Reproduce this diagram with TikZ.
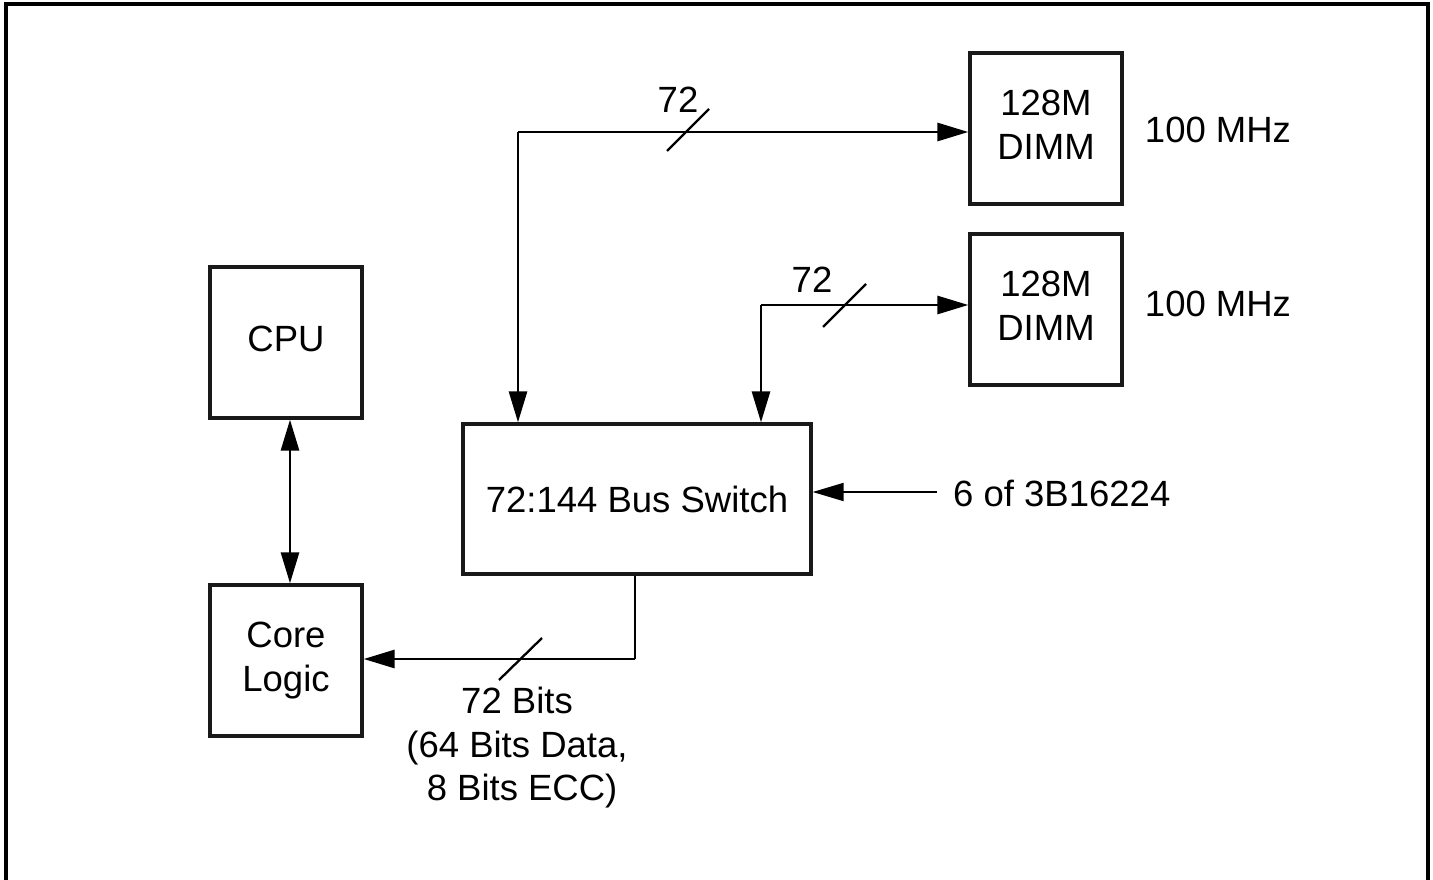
\documentclass[tikz,border=0pt]{standalone}
\usepackage{fontspec}
\setmainfont{Liberation Sans}
\usetikzlibrary{arrows.meta}
\begin{document}
\begin{tikzpicture}[x=1pt,y=-1pt,
  font=\fontsize{36.5}{43.5}\selectfont,
  blk/.style={draw=black!90,line width=3.3pt,inner sep=0pt,align=center},
  conn/.style={line width=2.8pt,-{Triangle[length=31pt,width=18pt]}},
  dconn/.style={line width=2.8pt,{Triangle[length=31pt,width=18pt]}-{Triangle[length=31pt,width=18pt]}},
  wire/.style={line width=2.8pt},
  slash/.style={line width=2.3pt},
  lbl/.style={inner sep=0pt,align=center}]
\useasboundingbox (0,0) rectangle (1433,880);
\draw[line width=3.3pt] (6,900) -- (6,4) -- (1428,4) -- (1428,900);
% blocks
\node[blk,minimum width=152pt,minimum height=151pt] (cpu) at (286,342.5) {CPU\vphantom{g}};
\node[blk,minimum width=152pt,minimum height=151pt] (core) at (286,660.5) {Core\\Logic};
\node[blk,minimum width=348pt,minimum height=150pt] (sw) at (637,499) {72:144 Bus Switch};
\node[blk,minimum width=152pt,minimum height=151pt] (d1) at (1046,128.5) {128M\\DIMM\vphantom{g}};
\node[blk,minimum width=152pt,minimum height=151pt] (d2) at (1046,309.5) {128M\\DIMM\vphantom{g}};
% labels
\node[lbl] (f1) at (1218,130) {100 MHz};
\node[lbl] (f2) at (1218,304) {100 MHz};
\node[lbl,anchor=west] (six) at (953,493) {6 of 3B16224};
\node[lbl] (n1) at (678,100) {72};
\node[lbl] (n2) at (812,280) {72};
\node[lbl,anchor=north] (bits) at (517,687) {72 Bits\\(64 Bits Data,\\\ 8 Bits ECC)};
% junction coordinates
\coordinate (j1) at (518,132);
\coordinate (j2) at (761,305);
\coordinate (j3) at (635,659);
\coordinate (s6) at (937,492);
% connectors
\draw[dconn] (cpu.south -| 290,0) -- (core.north -| 290,0);
\draw[conn] (j1) -- (j1 |- sw.north);
\draw[conn] (j1) -- (j1 -| d1.west);
\draw[conn] (j2) -- (j2 |- sw.north);
\draw[conn] (j2) -- (j2 -| d2.west);
\draw[wire] (j3 |- sw.south) -- (j3);
\draw[conn] (j3) -- (j3 -| core.east);
\draw[line width=1.8pt,-{Triangle[length=31pt,width=18pt]}] (s6) -- (s6 -| sw.east);
% bus width slashes
\draw[slash] (688,130) +(-21,21) -- +(21,-21);
\draw[slash] (844.5,305.5) +(-21.5,21.5) -- +(21.5,-21.5);
\draw[slash] (520.5,659) +(-21.5,21) -- +(21.5,-21);
\end{tikzpicture}
\end{document}
